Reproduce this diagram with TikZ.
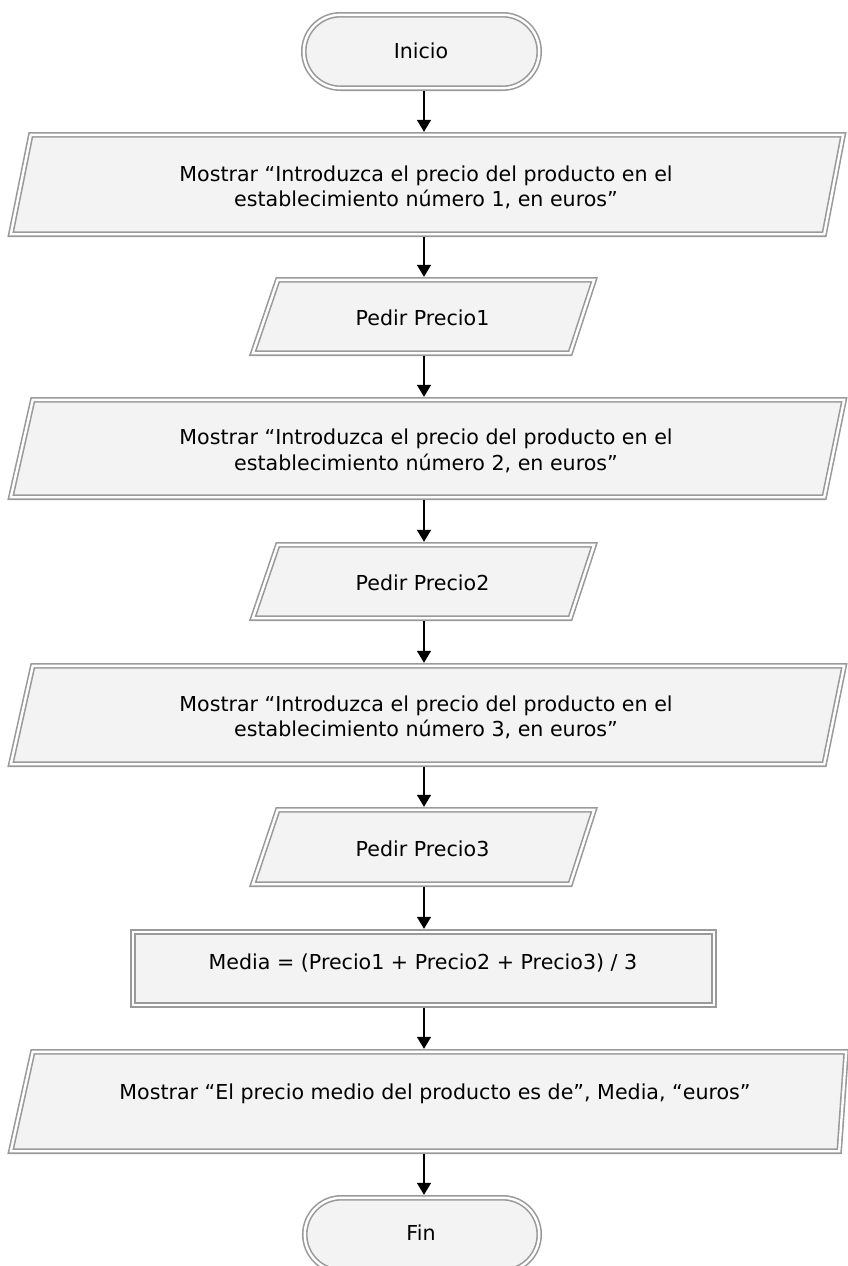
\documentclass[tikz,border=0pt]{standalone}
\usepackage{fontspec}
\setmainfont{DejaVu Sans}
\usetikzlibrary{arrows.meta}
\definecolor{edgegray}{HTML}{9A9A9A}
\definecolor{boxfill}{HTML}{F3F3F3}
\newcommand\parashape[6]{%
  \path[shapeline] (#3+2.8,#1+2.8) -- (#4-2.8,#1+2.8) -- (#6-2.8,#2-2.8) -- (#5+2.8,#2-2.8) -- cycle;}
\newcommand\stadiumshape[4]{%
  \path[shapeline, rounded corners=36.5pt] (#1+2.8,#3+2.8) rectangle (#2-2.8,#4-2.8);}
\begin{document}
\begin{tikzpicture}[x=1pt,y=-1pt,
  shapeline/.style={draw=edgegray, line width=1.6pt, double=white, double distance=2.4pt, fill=boxfill, line join=miter},
  blk/.style={inner sep=0pt, minimum width=200pt},
  txt/.style={inner sep=0pt, align=center, font=\fontsize{20.6}{25.5}\selectfont},
  arr/.style={line width=1.5pt, -{Triangle[width=14pt,length=12pt]}}]
\useasboundingbox (0,0) rectangle (848,1266);

% shapes
\stadiumshape{301}{542}{12}{91}
\parashape{132}{237}{28}{846}{8}{827}
\parashape{277}{356}{275}{597}{250}{573}
\parashape{397}{500}{30}{847}{8}{827}
\parashape{542}{621}{275}{597}{250}{573}
\parashape{663}{767}{30}{847}{8}{827}
\parashape{807}{887}{275}{597}{250}{573}
\path[shapeline] (130+2.8,929+2.8) rectangle (717-2.8,1008-2.8);
\parashape{1049}{1154}{30}{849}{8}{842}
\stadiumshape{302}{542}{1195}{1274}

% placeholder nodes for connectors
\node[blk, minimum height=79pt]  (inicio) at (424,51.5) {};
\node[blk, minimum height=105pt] (m1) at (424,184.5) {};
\node[blk, minimum height=79pt]  (p1) at (424,316.5) {};
\node[blk, minimum height=103pt] (m2) at (424,448.5) {};
\node[blk, minimum height=79pt]  (p2) at (424,581.5) {};
\node[blk, minimum height=104pt] (m3) at (424,715) {};
\node[blk, minimum height=80pt]  (p3) at (424,847) {};
\node[blk, minimum height=79pt]  (media) at (424,968.5) {};
\node[blk, minimum height=105pt] (mf) at (424,1101.5) {};
\node[blk, minimum height=79pt]  (fin) at (424,1234.5) {};

% texts
\node[txt] (inicio-t) at (421,51) {Inicio};
\node[txt] (m1-t) at (426,187.5) {Mostrar “Introduzca el precio del producto en el\\establecimiento número 1, en euros”};
\node[txt] (p1-t) at (422.5,318) {Pedir Precio1};
\node[txt] (m2-t) at (426,451) {Mostrar “Introduzca el precio del producto en el\\establecimiento número 2, en euros”};
\node[txt] (p2-t) at (422.5,583) {Pedir Precio2};
\node[txt] (m3-t) at (426,717.5) {Mostrar “Introduzca el precio del producto en el\\establecimiento número 3, en euros”};
\node[txt] (p3-t) at (422.5,848.5) {Pedir Precio3};
\node[txt] (media-t) at (423,963) {Media = (Precio1 + Precio2 + Precio3) / 3};
\node[txt] (mf-t) at (435,1094) {Mostrar “El precio medio del producto es de”, Media, “euros”};
\node[txt] (fin-t) at (421,1233) {Fin};

% connectors
\draw[arr] (inicio) -- (m1);
\draw[arr] (m1) -- (p1);
\draw[arr] (p1) -- (m2);
\draw[arr] (m2) -- (p2);
\draw[arr] (p2) -- (m3);
\draw[arr] (m3) -- (p3);
\draw[arr] (p3) -- (media);
\draw[arr] (media) -- (mf);
\draw[arr] (mf) -- (fin);
\end{tikzpicture}
\end{document}
